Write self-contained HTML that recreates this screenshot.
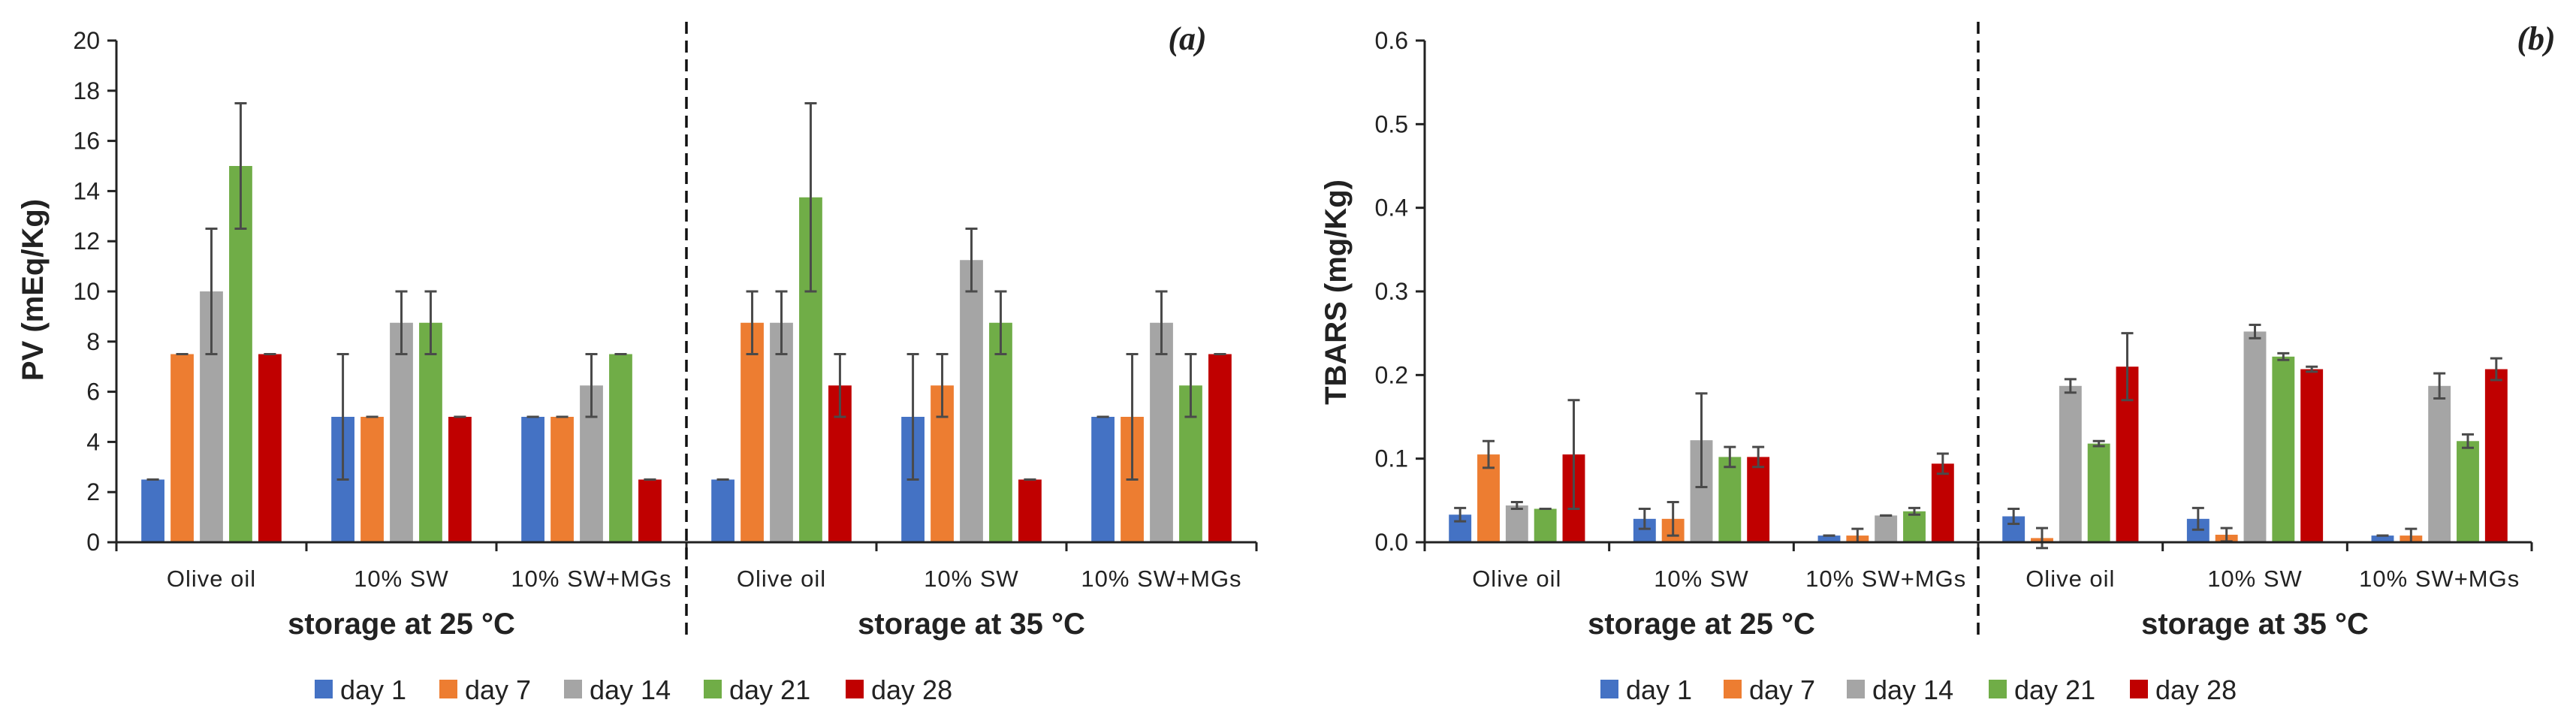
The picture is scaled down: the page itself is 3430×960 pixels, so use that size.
<!DOCTYPE html>
<html><head><meta charset="utf-8"><style>
html,body{margin:0;padding:0;background:#fff;}
svg{display:block;}
text{font-family:"Liberation Sans",sans-serif;fill:#222;}
</style></head><body>
<svg id="svg" width="3430" height="960" viewBox="0 0 3430 960" xmlns="http://www.w3.org/2000/svg"></svg>
<script>
const NS="http://www.w3.org/2000/svg";
const series=["day 1","day 7","day 14","day 21","day 28"];
const colors=["#4472C4","#ED7D31","#A5A5A5","#70AD47","#C00000"];
const categories=["Olive oil","10% SW","10% SW+MGs","Olive oil","10% SW","10% SW+MGs"];
// PV values [category][series]
const pvValues=[[2.5,7.5,10,15,7.5],[5,5,8.75,8.75,5],[5,5,6.25,7.5,2.5],[2.5,8.75,8.75,13.75,6.25],[5,6.25,11.25,8.75,2.5],[5,5,8.75,6.25,7.5]];
const pvErrors=[[0,0,2.5,2.5,0],[2.5,0,1.25,1.25,0],[0,0,1.25,0,0],[0,1.25,1.25,3.75,1.25],[2.5,1.25,1.25,1.25,0],[0,2.5,1.25,1.25,0]];
const pvTicks=[0,2,4,6,8,10,12,14,16,18,20];
// TBARS values
const tbValues=[[0.033,0.105,0.044,0.04,0.105],[0.028,0.028,0.122,0.102,0.102],[0.008,0.008,0.032,0.037,0.094],[0.031,0.005,0.187,0.118,0.21],[0.028,0.009,0.252,0.222,0.207],[0.008,0.008,0.187,0.121,0.207]];
const tbErrors=[[0.008,0.016,0.004,0,0.065],[0.012,0.02,0.056,0.012,0.012],[0,0.008,0,0.004,0.012],[0.009,0.012,0.008,0.003,0.04],[0.013,0.008,0.008,0.004,0.003],[0,0.008,0.015,0.008,0.013]];
const tbTicks=[0,0.1,0.2,0.3,0.4,0.5,0.6];
const svg=document.getElementById('svg');
function mk(tag,attrs,parent){const e=document.createElementNS(NS,tag);for(const k in attrs)e.setAttribute(k,attrs[k]);(parent||svg).appendChild(e);return e;}
function chart(o){
  const g=mk('g',{});
  
  
  const x0=o.x0,x1=o.x1,yTop=54,yBot=722,maxV=o.ticks[o.ticks.length-1];
  const y=v=>yBot-(v/maxV)*(yBot-yTop);
  const cw=(x1-x0)/categories.length;
  const step=cw*0.154,bw=step*0.79;
  o.ticks.forEach(t=>{
    const tk=mk('line',{x1:x0-12,x2:x0,y1:y(t),y2:y(t),stroke:'#222','stroke-width':3},g);
    
    
    const tx=mk('text',{x:x0-22,y:y(t)+11,'text-anchor':'end','font-size':32},g);
    tx.textContent=o.fmt(t);
    
    
  });
  categories.forEach((c,ci)=>{
    const cx=x0+cw*(ci+0.5);
    series.forEach((s,si)=>{
      const v=o.values[ci][si],e=o.errors[ci][si];
      const bx=cx+(si-2)*step-bw/2;
      const r=mk('rect',{x:bx,y:y(v),width:bw,height:yBot-y(v),fill:colors[si]},g);
      
      
      const ex=cx+(si-2)*step;
      const eg=mk('g',{stroke:'#4a4a4a','stroke-width':3},g);
      
      
      mk('line',{x1:ex,x2:ex,y1:y(v+e),y2:y(v-e)},eg);
      mk('line',{x1:ex-8,x2:ex+8,y1:y(v+e),y2:y(v+e)},eg);
      mk('line',{x1:ex-8,x2:ex+8,y1:y(v-e),y2:y(v-e)},eg);
    });
    const lb=mk('text',{x:cx,y:781,'text-anchor':'middle','font-size':31,'letter-spacing':1},g);
    lb.textContent=c;
    
    
  });
  for(let i=0;i<=categories.length;i++){
    const tk=mk('line',{x1:x0+cw*i,x2:x0+cw*i,y1:yBot,y2:yBot+12,stroke:'#222','stroke-width':3},g);
    
    
  }
  const ya=mk('line',{x1:x0,x2:x0,y1:yTop,y2:yBot,stroke:'#222','stroke-width':3},g);
  
  
  const xa=mk('line',{x1:x0-12,x2:x1,y1:yBot,y2:yBot,stroke:'#222','stroke-width':3},g);
  
  
  const dx=x0+cw*3;
  const dl=mk('line',{x1:dx,x2:dx,y1:29,y2:848,stroke:'#111','stroke-width':3.5,'stroke-dasharray':'16 9'},g);
  
  
  const yt=mk('text',{x:0,y:0,'text-anchor':'middle','font-size':40,'font-weight':'bold',transform:`translate(${o.titleX},${o.titleY}) rotate(-90)`},g);
  yt.textContent=o.title;
  
  
  [[x0+cw*1.5,'storage at 25 °C'],[x0+cw*4.5,'storage at 35 °C']].forEach(([gx,t])=>{
    const s=mk('text',{x:gx,y:844,'text-anchor':'middle','font-size':40,'font-weight':'bold'},g);
    s.textContent=t;
    
    
  });
  const pl=mk('text',{x:o.panelX,y:66,'text-anchor':'middle','font-size':44,'font-style':'italic','font-weight':'bold',style:'font-family:"Liberation Serif",serif'},g);
  pl.textContent=o.panel;
  
  
  o.legendX.forEach((lx,i)=>{
    const lg=mk('g',{},g);
    
    
    mk('rect',{x:lx,y:905,width:24,height:25,fill:colors[i]},lg);
    const t=mk('text',{x:lx+34,y:931,'font-size':36},lg);
    t.textContent=series[i];
  });
}
chart({name:'pv-chart',x0:155,x1:1673,values:pvValues,errors:pvErrors,ticks:pvTicks,fmt:t=>String(t),title:'PV (mEq/Kg)',titleX:57,titleY:386,panel:'(a)',panelX:1581,legendX:[419,585,751,937,1126]});
chart({name:'tbars-chart',x0:1897,x1:3371,values:tbValues,errors:tbErrors,ticks:tbTicks,fmt:t=>t.toFixed(1),title:'TBARS (mg/Kg)',titleX:1792,titleY:389,panel:'(b)',panelX:3377,legendX:[2131,2295,2459,2648,2836]});
</script>
</body></html>
